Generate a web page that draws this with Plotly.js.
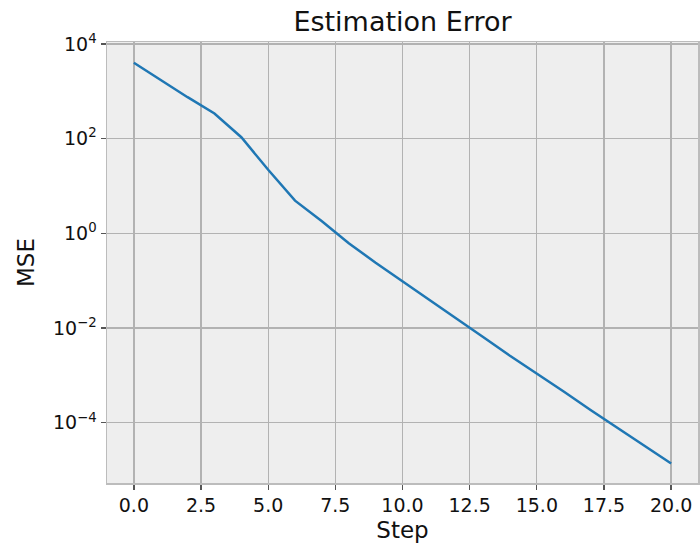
<!DOCTYPE html>
<html>
<head>
<meta charset="utf-8">
<script src="https://cdn.plot.ly/plotly-3.0.1.min.js"></script>
<style>html,body{margin:0;padding:0;background:#fff;}#chart{width:700px;height:546px;}</style>
</head>
<body>
<div id="chart"></div>
<script>
const steps = [0,1,2,3,4,5,6,7,8,9,10,11,12,13,14,15,16,17,18,19,20];
const mse = [4000,1700,750,340,107,22,4.9,1.8,0.62,0.24,0.098,0.040,0.0158,0.0065,0.0026,0.0011,4.6e-4,1.86e-4,7.8e-5,3.2e-5,1.38e-5];
const yTickVals = [1e-4,1e-2,1,1e2,1e4];
const yTickText = ['10<sup>\u22124</sup>','10<sup>\u22122</sup>','10<sup>0</sup>','10<sup>2</sup>','10<sup>4</sup>'];
const xTickVals = [0,2.5,5,7.5,10,12.5,15,17.5,20];
const xTickText = ['0.0','2.5','5.0','7.5','10.0','12.5','15.0','17.5','20.0'];

const FF = 'DejaVu Sans, sans-serif';
const trace = {
  x: steps, y: mse, type: 'scatter', mode: 'lines',
  line: {color: '#1f77b4', width: 2.5}, hoverinfo: 'skip'
};
const layout = {
  width: 700, height: 546,
  margin: {l: 107, r: 2, t: 42, b: 63},
  paper_bgcolor: '#ffffff', plot_bgcolor: '#eeeeee',
  showlegend: false,
  font: {family: FF, color: '#111'},
  title: {text: 'Estimation Error', x: 0.5, xref: 'paper', xanchor: 'center', y: 0.96, yref: 'container', yanchor: 'middle', font: {family: FF, size: 27, color: '#111'}},
  xaxis: {
    range: [-1, 21], tickvals: xTickVals, ticktext: xTickText,
    showgrid: true, gridcolor: '#b2b2b2', gridwidth: 1.3,
    zeroline: false, showline: true, mirror: true, linecolor: '#bcbcbc', linewidth: 1.5,
    ticks: 'outside', ticklen: 5, tickwidth: 1.3, tickcolor: '#555',
    tickfont: {family: FF, size: 19, color: '#111'},
    title: {text: 'Step', font: {family: FF, size: 23, color: '#111'}, standoff: 6}
  },
  yaxis: {
    type: 'log', range: [-5.27, 4.04], tickvals: yTickVals, ticktext: yTickText,
    showgrid: true, gridcolor: '#b2b2b2', gridwidth: 1.3,
    zeroline: false, showline: true, mirror: true, linecolor: '#bcbcbc', linewidth: 1.5,
    ticks: 'outside', ticklen: 5, tickwidth: 1.3, tickcolor: '#555',
    tickfont: {family: FF, size: 19, color: '#111'},
    title: {text: 'MSE', font: {family: FF, size: 23, color: '#111'}, standoff: 12}
  }
};
Plotly.newPlot('chart', [trace], layout, {displayModeBar: false, staticPlot: true});
</script>
</body>
</html>
